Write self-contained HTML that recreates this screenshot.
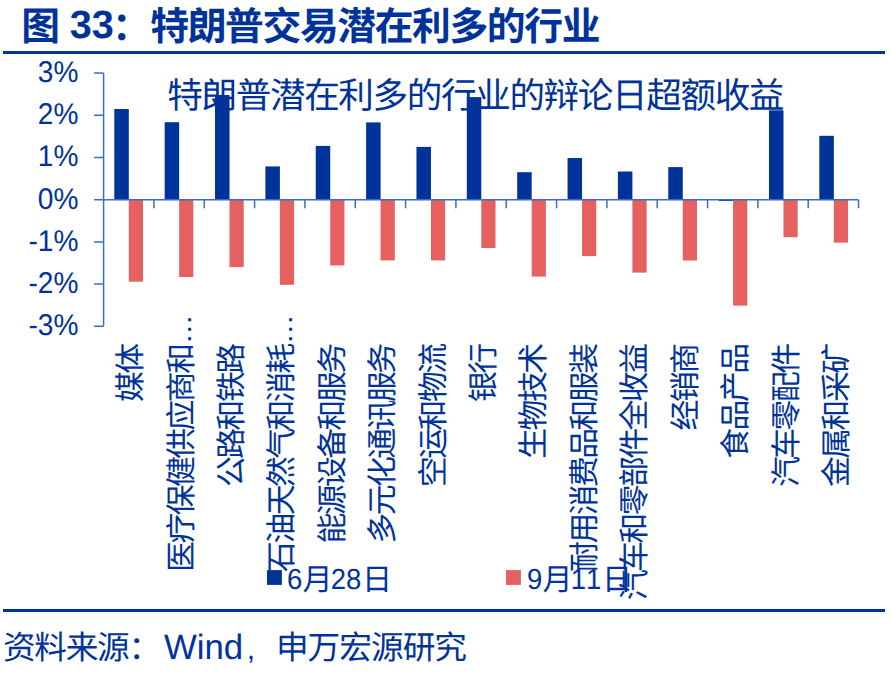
<!DOCTYPE html>
<html lang="zh-CN">
<head>
<meta charset="utf-8">
<title>图 33：特朗普交易潜在利多的行业</title>
<style>
html,body{margin:0;padding:0;background:#fff;}
body{width:891px;height:675px;overflow:hidden;font-family:"Liberation Sans",sans-serif;}
svg{display:block;}
svg text{font-family:"Liberation Sans","Noto Sans CJK SC",sans-serif;font-kerning:none;text-rendering:geometricPrecision;}
</style>
</head>
<body>
<svg width="891" height="675" viewBox="0 0 891 675" fill="#003399">
<rect width="891" height="675" fill="#fff"/>
<rect x="3" y="51" width="882" height="3" fill="#003399"/>
<rect x="3" y="609" width="882" height="3" fill="#003399"/>
<g transform="translate(22 39)" role="img" aria-label="图 33：特朗普交易潜在利多的行业"><title>图 33：特朗普交易潜在利多的行业</title><text x="-0.7" y="0.7" font-size="38.8" font-weight="700">图</text><text transform="translate(47.72 -1.2) scale(1 0.995)" font-size="39.7" font-weight="700">33</text><text x="90" y="0.7" font-size="38.8" font-weight="700">：</text><text x="128.3" y="0.7" font-size="38.8" font-weight="700" letter-spacing="-1.4">特朗普交易潜在利多的行业</text></g>
<g><rect x="114.3" y="109" width="14.5" height="90.7" fill="#003399"/><rect x="128.8" y="199.7" width="14.2" height="82" fill="#e66060"/><rect x="164.66" y="122.2" width="14.5" height="77.5" fill="#003399"/><rect x="179.16" y="199.7" width="14.2" height="77.3" fill="#e66060"/><rect x="215.02" y="95" width="14.5" height="104.7" fill="#003399"/><rect x="229.52" y="199.7" width="14.2" height="67.4" fill="#e66060"/><rect x="265.38" y="166.4" width="14.5" height="33.3" fill="#003399"/><rect x="279.88" y="199.7" width="14.2" height="85.1" fill="#e66060"/><rect x="315.74" y="145.9" width="14.5" height="53.8" fill="#003399"/><rect x="330.24" y="199.7" width="14.2" height="65.8" fill="#e66060"/><rect x="366.1" y="122.4" width="14.5" height="77.3" fill="#003399"/><rect x="380.6" y="199.7" width="14.2" height="60.7" fill="#e66060"/><rect x="416.46" y="146.9" width="14.5" height="52.8" fill="#003399"/><rect x="430.96" y="199.7" width="14.2" height="60.7" fill="#e66060"/><rect x="466.82" y="97.1" width="14.5" height="102.6" fill="#003399"/><rect x="481.32" y="199.7" width="14.2" height="48.3" fill="#e66060"/><rect x="517.18" y="172.2" width="14.5" height="27.5" fill="#003399"/><rect x="531.68" y="199.7" width="14.2" height="76.9" fill="#e66060"/><rect x="567.54" y="158.05" width="14.5" height="41.65" fill="#003399"/><rect x="582.04" y="199.7" width="14.2" height="56.4" fill="#e66060"/><rect x="617.9" y="171.5" width="14.5" height="28.2" fill="#003399"/><rect x="632.4" y="199.7" width="14.2" height="72.9" fill="#e66060"/><rect x="668.26" y="167.1" width="14.5" height="32.6" fill="#003399"/><rect x="682.76" y="199.7" width="14.2" height="60.8" fill="#e66060"/><rect x="718.62" y="199.7" width="14.5" height="1.3" fill="#003399"/><rect x="733.12" y="199.7" width="14.2" height="105.9" fill="#e66060"/><rect x="768.98" y="110.3" width="14.5" height="89.4" fill="#003399"/><rect x="783.48" y="199.7" width="14.2" height="37.5" fill="#e66060"/><rect x="819.34" y="135.8" width="14.5" height="63.9" fill="#003399"/><rect x="833.84" y="199.7" width="14.2" height="42.9" fill="#e66060"/></g>
<path d="M103.6 73.1V326.3M94.1 326.3H103.6M94.1 284.1H103.6M94.1 241.9H103.6M94.1 199.7H103.6M94.1 157.5H103.6M94.1 115.3H103.6M94.1 73.1H103.6M103.6 199.7H858.55M103.6 199.7V208.2M153.93 199.7V208.2M204.26 199.7V208.2M254.59 199.7V208.2M304.92 199.7V208.2M355.25 199.7V208.2M405.58 199.7V208.2M455.91 199.7V208.2M506.24 199.7V208.2M556.57 199.7V208.2M606.9 199.7V208.2M657.23 199.7V208.2M707.56 199.7V208.2M757.89 199.7V208.2M808.22 199.7V208.2M858.55 199.7V208.2" fill="none" stroke="#3d6dc3" stroke-width="1.5"/>
<g><g role="img" aria-label="3%"><text transform="translate(37.787 81.9) scale(1 1.065)" font-size="28.1">3%</text></g><g role="img" aria-label="2%"><text transform="translate(37.787 124.1) scale(1 1.065)" font-size="28.1">2%</text></g><g role="img" aria-label="1%"><text transform="translate(37.787 166.3) scale(1 1.065)" font-size="28.1">1%</text></g><g role="img" aria-label="0%"><text transform="translate(37.787 208.5) scale(1 1.065)" font-size="28.1">0%</text></g><g role="img" aria-label="-1%"><text transform="translate(28.429 250.7) scale(1 1.065)" font-size="28.1">-1%</text></g><g role="img" aria-label="-2%"><text transform="translate(28.429 292.9) scale(1 1.065)" font-size="28.1">-2%</text></g><g role="img" aria-label="-3%"><text transform="translate(28.429 335.1) scale(1 1.065)" font-size="28.1">-3%</text></g></g>
<g transform="translate(168 107.2)" role="img" aria-label="特朗普潜在利多的行业的辩论日超额收益"><title>特朗普潜在利多的行业的辩论日超额收益</title><text x="-0.7" y="0.7" font-size="35.6" letter-spacing="-1.37">特朗普潜在利多的行业的辩论日超额收益</text></g>
<g transform="translate(140.2 344.2) rotate(-90)" role="img" aria-label="媒体"><title>媒体</title><text x="-57.9" y="0.9" font-size="30.85" letter-spacing="-2.55">媒体</text></g>
<g transform="translate(190.62 344.2) rotate(-90)" role="img" aria-label="医疗保健供应商和"><title>医疗保健供应商和</title><text x="-227.7" y="0.9" font-size="30.85" letter-spacing="-2.55">医疗保健供应商和</text></g>
<text transform="translate(190.82 344.2) rotate(-90) scale(1.1 1)" font-size="27.3">…</text>
<g transform="translate(241.04 344.2) rotate(-90)" role="img" aria-label="公路和铁路"><title>公路和铁路</title><text x="-142.8" y="0.9" font-size="30.85" letter-spacing="-2.55">公路和铁路</text></g>
<g transform="translate(291.46 344.2) rotate(-90)" role="img" aria-label="石油天然气和消耗"><title>石油天然气和消耗</title><text x="-227.7" y="0.9" font-size="30.85" letter-spacing="-2.55">石油天然气和消耗</text></g>
<text transform="translate(291.66 344.2) rotate(-90) scale(1.1 1)" font-size="27.3">…</text>
<g transform="translate(341.88 344.2) rotate(-90)" role="img" aria-label="能源设备和服务"><title>能源设备和服务</title><text x="-199.4" y="0.9" font-size="30.85" letter-spacing="-2.55">能源设备和服务</text></g>
<g transform="translate(392.3 344.2) rotate(-90)" role="img" aria-label="多元化通讯服务"><title>多元化通讯服务</title><text x="-199.4" y="0.9" font-size="30.85" letter-spacing="-2.55">多元化通讯服务</text></g>
<g transform="translate(442.72 344.2) rotate(-90)" role="img" aria-label="空运和物流"><title>空运和物流</title><text x="-142.8" y="0.9" font-size="30.85" letter-spacing="-2.55">空运和物流</text></g>
<g transform="translate(493.14 344.2) rotate(-90)" role="img" aria-label="银行"><title>银行</title><text x="-57.9" y="0.9" font-size="30.85" letter-spacing="-2.55">银行</text></g>
<g transform="translate(543.56 344.2) rotate(-90)" role="img" aria-label="生物技术"><title>生物技术</title><text x="-114.5" y="0.9" font-size="30.85" letter-spacing="-2.55">生物技术</text></g>
<g transform="translate(593.98 344.2) rotate(-90)" role="img" aria-label="耐用消费品和服装"><title>耐用消费品和服装</title><text x="-227.7" y="0.9" font-size="30.85" letter-spacing="-2.55">耐用消费品和服装</text></g>
<g transform="translate(644.4 344.2) rotate(-90)" role="img" aria-label="汽车和零部件全收益"><title>汽车和零部件全收益</title><text x="-256" y="0.9" font-size="30.85" letter-spacing="-2.55">汽车和零部件全收益</text></g>
<g transform="translate(694.82 344.2) rotate(-90)" role="img" aria-label="经销商"><title>经销商</title><text x="-86.2" y="0.9" font-size="30.85" letter-spacing="-2.55">经销商</text></g>
<g transform="translate(745.24 344.2) rotate(-90)" role="img" aria-label="食品产品"><title>食品产品</title><text x="-114.5" y="0.9" font-size="30.85" letter-spacing="-2.55">食品产品</text></g>
<g transform="translate(795.66 344.2) rotate(-90)" role="img" aria-label="汽车零配件"><title>汽车零配件</title><text x="-142.8" y="0.9" font-size="30.85" letter-spacing="-2.55">汽车零配件</text></g>
<g transform="translate(846.08 344.2) rotate(-90)" role="img" aria-label="金属和采矿"><title>金属和采矿</title><text x="-142.8" y="0.9" font-size="30.85" letter-spacing="-2.55">金属和采矿</text></g>
<rect x="267" y="570.1" width="14.9" height="14.8" fill="#003399"/>
<g transform="translate(286.9 589.9)" role="img" aria-label="6月28日"><title>6月28日</title><text transform="translate(0 -0.9) scale(1 1.054)" font-size="27.5">6</text><text x="15.7" y="0.16" font-size="30.1">月</text><text transform="translate(43.894 -0.9) scale(1 1.054)" font-size="27.5">28</text><text x="75.2" y="0.16" font-size="30.1">日</text></g>
<rect x="506" y="570.1" width="14.9" height="14.8" fill="#e66060"/>
<g transform="translate(526.9 589.9)" role="img" aria-label="9月11日"><title>9月11日</title><text transform="translate(0 -0.9) scale(1 1.054)" font-size="27.5">9</text><text x="15.7" y="0.16" font-size="30.1">月</text><text transform="translate(43.894 -0.9) scale(1 1.054)" font-size="27.5">11</text><text x="75.2" y="0.16" font-size="30.1">日</text></g>
<g transform="translate(3.5 658.5)" role="img" aria-label="资料来源：Wind，申万宏源研究"><title>资料来源：Wind，申万宏源研究</title><text x="-0.6" y="0.7" font-size="32.7" letter-spacing="-1.3">资料来源：</text><text transform="translate(160.4 0) scale(1 1.015)" font-size="34.8">Wind</text><text transform="translate(243.286 0) scale(1 1)" font-size="30">,</text><text x="272.4" y="0.7" font-size="32.7" letter-spacing="-1">申万宏源研究</text></g>
</svg>
</body>
</html>
